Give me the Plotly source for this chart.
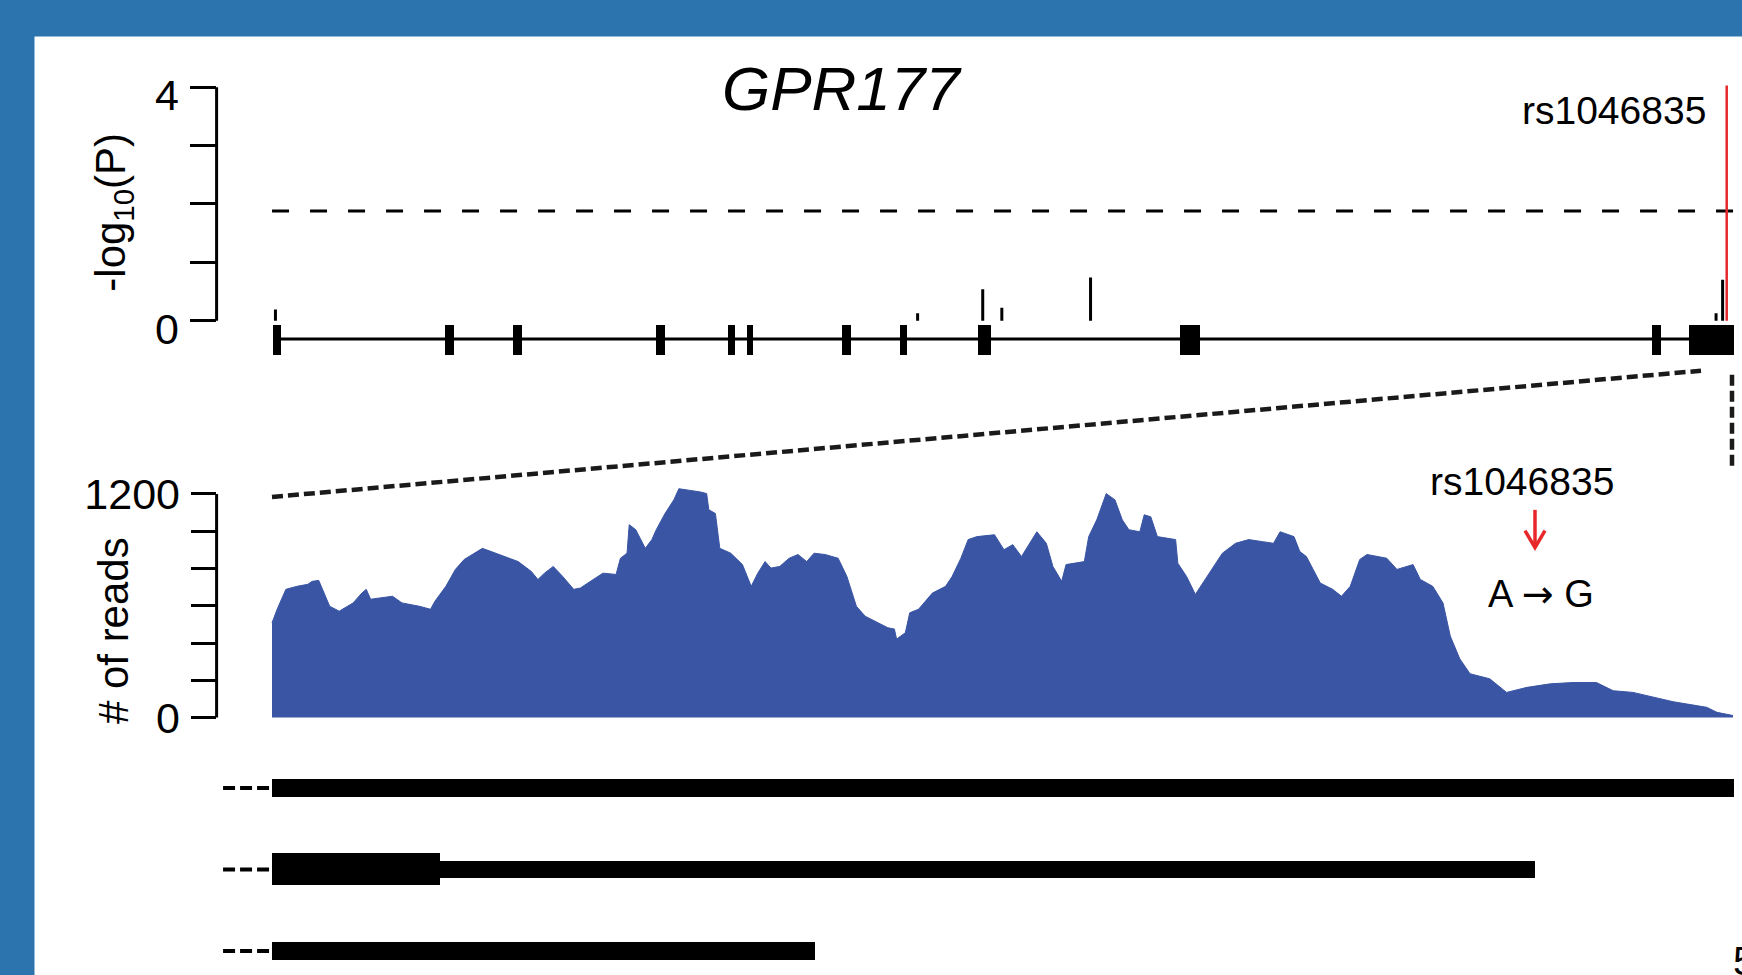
import plotly.graph_objects as go

W, H = 1742, 975
BLUE = "#2B74AE"
FILL = "#3A55A4"
RED = "#E8272B"
FONT = "Liberation Sans, Arial, Helvetica, sans-serif"

# ---------------- data ----------------
# top panel: gene model (kb) and association results (-log10 P)
gene_span_kb = [0.0, 107.0]
exon_start_kb = [0.00, 12.60, 17.58, 28.02, 33.34, 34.73, 41.69, 45.94, 51.65, 66.45, 101.03, 103.71]
exon_end_kb = [0.59, 13.26, 18.24, 28.72, 33.85, 35.17, 42.35, 46.45, 52.60, 67.92, 101.69, 107.00]
snp_pos_kb = [0.18, 47.23, 52.00, 53.40, 59.90, 105.73, 106.21]
snp_logp = [0.19, 0.13, 0.54, 0.22, 0.74, 0.13, 0.70]
lead_snp_name = "rs1046835"
lead_snp_pos_kb = [106.51]
lead_snp_logp = [4.03]
threshold_logp = 1.88
logp_ticks = [0, 1, 2, 3, 4]
logp_ticktext = ["0", "", "", "", "4"]

# middle panel: read coverage over the zoomed 3' region (bp)
cov_pos_bp = [0, 7, 19, 34, 49, 55, 64, 71, 79, 92,
              111, 123, 129, 135, 147, 165, 178, 202, 217, 223,
              238, 251, 263, 288, 300, 318, 337, 355, 364, 373,
              385, 398, 413, 422, 440, 453, 471, 477, 486, 489,
              498, 505, 511, 520, 526, 538, 550, 557, 572, 586,
              595, 598, 607, 613, 628, 644, 656, 665, 675, 683,
              695, 708, 720, 732, 742, 757, 775, 787, 800, 812,
              830, 843, 852, 855, 867, 873, 885, 904, 922, 931,
              943, 953, 965, 989, 1002, 1014, 1026, 1038, 1047, 1060,
              1069, 1081, 1087, 1112, 1118, 1129, 1142, 1154, 1164, 1173,
              1188, 1194, 1203, 1212, 1237, 1240, 1252, 1264, 1283, 1301,
              1319, 1337, 1356, 1371, 1380, 1399, 1407, 1416, 1435, 1452,
              1464, 1476, 1489, 1499, 1526, 1540, 1562, 1572, 1589, 1603,
              1613, 1626, 1640, 1667, 1690, 1718, 1750, 1781, 1813, 1836,
              1863, 1891, 1918, 1964, 1978, 2000]
cov_reads = [508, 581, 688, 704, 715, 731, 736, 668, 597, 571,
             615, 668, 688, 635, 642, 651, 615, 597, 581, 624,
             704, 795, 848, 908, 891, 864, 837, 784, 741, 775,
             811, 757, 688, 695, 741, 775, 768, 855, 882, 1035,
             1008, 955, 908, 955, 1008, 1095, 1168, 1228, 1221, 1211,
             1202, 1115, 1095, 908, 882, 821, 704, 775, 837, 802,
             811, 855, 875, 837, 882, 875, 855, 757, 597, 544,
             508, 482, 475, 421, 455, 562, 581, 668, 704, 757,
             855, 955, 971, 981, 901, 928, 864, 944, 997, 935,
             811, 731, 821, 837, 971, 1061, 1202, 1168, 1061, 1008,
             997, 1088, 1077, 971, 955, 828, 757, 661, 775, 882,
             935, 955, 944, 935, 997, 971, 891, 864, 722, 688,
             651, 704, 848, 875, 855, 795, 821, 741, 704, 615,
             437, 315, 235, 208, 135, 162, 181, 188, 188, 144,
             135, 108, 85, 55, 28, 11]
reads_ticks = [0, 200, 400, 600, 800, 1000, 1200]
reads_ticktext = ["0", "", "", "", "", "", "1200"]

# bottom: transcript models (bp)
tx_row = [3, 2, 1]
tx_start_bp = [0, 0, 0]
tx_end_bp = [2001, 1729, 743]
tx_thick_end_bp = [0, 229, 0]
tx_lead_bp = [-67, -3]

# ---------------- helpers for layout positions ----------------
def fx(p):
    return p / W


def fy(p):
    return 1 - p / H


fig = go.Figure()

# gene backbone
fig.add_trace(go.Scatter(x=gene_span_kb, y=[-0.311, -0.311], mode="lines",
                         line=dict(color="black", width=3), xaxis="x", yaxis="y",
                         hoverinfo="skip"))
# exons
exon_center = [(s + e) / 2 for s, e in zip(exon_start_kb, exon_end_kb)]
exon_len = [e - s for s, e in zip(exon_start_kb, exon_end_kb)]
fig.add_trace(go.Bar(x=exon_center, y=[0.511] * len(exon_center), base=[-0.584] * len(exon_center),
                     width=exon_len, marker=dict(color="black", line=dict(width=0)),
                     xaxis="x", yaxis="y"))
# threshold
fig.add_trace(go.Scatter(x=[-0.07, 107.63], y=[threshold_logp, threshold_logp], mode="lines",
                         line=dict(color="black", width=3, dash="17px,21px"),
                         xaxis="x", yaxis="y"))
# SNP stems
sx, sy = [], []
for p, v in zip(snp_pos_kb, snp_logp):
    sx += [p, p, None]
    sy += [0, v, None]
fig.add_trace(go.Scatter(x=sx, y=sy, mode="lines", line=dict(color="black", width=3),
                         xaxis="x", yaxis="y"))
fig.add_trace(go.Scatter(x=lead_snp_pos_kb * 2, y=[0, lead_snp_logp[0]], mode="lines",
                         line=dict(color=RED, width=2.5), xaxis="x", yaxis="y"))

# coverage
fig.add_trace(go.Scatter(x=cov_pos_bp, y=cov_reads, mode="lines", fill="tozeroy",
                         fillcolor=FILL, line=dict(color=FILL, width=1),
                         xaxis="x2", yaxis="y2"))

# transcripts
fig.add_trace(go.Bar(orientation="h", y=tx_row,
                     x=[e - s for s, e in zip(tx_start_bp, tx_end_bp)], base=tx_start_bp,
                     width=0.215, marker=dict(color="black", line=dict(width=0)),
                     xaxis="x3", yaxis="y3"))
fig.add_trace(go.Bar(orientation="h", y=tx_row,
                     x=[e - s for s, e in zip(tx_start_bp, tx_thick_end_bp)], base=tx_start_bp,
                     width=0.39, marker=dict(color="black", line=dict(width=0)),
                     xaxis="x3", yaxis="y3"))
lx, ly = [], []
for r in tx_row:
    lx += [tx_lead_bp[0], tx_lead_bp[1], None]
    ly += [r, r, None]
fig.add_trace(go.Scatter(x=lx, y=ly, mode="lines", line=dict(color="black", width=4, dash="12px,5px"),
                         xaxis="x3", yaxis="y3"))

tickfont = dict(family=FONT, size=43, color="black")
hidden = dict(visible=False, showgrid=False, zeroline=False)

fig.update_layout(
    width=W, height=H, autosize=False,
    margin=dict(l=0, r=0, t=0, b=0),
    paper_bgcolor=BLUE, plot_bgcolor="rgba(0,0,0,0)",
    showlegend=False, barmode="overlay", bargap=0,
    xaxis=dict(domain=[fx(216.6), 1], range=[-4.132, 107.63], anchor="y", **hidden),
    yaxis=dict(domain=[fy(370), fy(60)], range=[-0.805, 4.4715], anchor="x",
               tickvals=logp_ticks, ticktext=logp_ticktext, ticks="outside", ticklen=26,
               tickwidth=3, tickcolor="black", showline=False, showgrid=False, zeroline=False,
               tickfont=tickfont, ticklabelstandoff=2, ticklabelshift=8),
    xaxis2=dict(domain=[fx(216.6), 1], range=[-75.84, 2012.3], anchor="y2", **hidden),
    yaxis2=dict(domain=[fy(740), fy(470)], range=[-96, 1344], anchor="x2",
                tickvals=reads_ticks, ticktext=reads_ticktext, ticks="outside", ticklen=25,
                tickwidth=3, tickcolor="black", showline=False, showgrid=False, zeroline=False,
                tickfont=tickfont, ticklabelstandoff=2),
    xaxis3=dict(domain=[fx(216.6), 1], range=[-75.84, 2012.3], anchor="y3", **hidden),
    yaxis3=dict(domain=[0, fy(770)], range=[0.7805, 3.2805], anchor="x3", **hidden),
)

shapes = [
    # white slide panel
    dict(type="rect", xref="paper", yref="paper", x0=fx(34.5), x1=1.01, y0=-0.01, y1=fy(36.7),
         fillcolor="white", line=dict(width=0), layer="below"),
    # axis lines spanning only the labelled range
    dict(type="line", xref="x domain", yref="y", x0=0, x1=0, y0=0, y1=4,
         line=dict(color="black", width=3)),
    dict(type="line", xref="x2 domain", yref="y2", x0=0, x1=0, y0=0, y1=1200,
         line=dict(color="black", width=3)),
    # zoom connector lines
    dict(type="line", xref="paper", yref="paper", x0=fx(272), y0=fy(500), x1=fx(1701), y1=fy(373),
         line=dict(color="#1a1a1a", width=4.5, dash="11px,5px")),
    dict(type="line", xref="paper", yref="paper", x0=fx(1732), y0=fy(377), x1=fx(1732), y1=fy(472),
         line=dict(color="#1a1a1a", width=4.5, dash="11px,5px")),
    # red arrow pointing at the SNP in the coverage track
    dict(type="line", xref="paper", yref="paper", x0=fx(1535), y0=fy(513), x1=fx(1535), y1=fy(550),
         line=dict(color=RED, width=3.5)),
    dict(type="path", xref="paper", yref="paper",
         path=f"M {fx(1525)},{fy(534)} L {fx(1535)},{fy(551)} L {fx(1545)},{fy(534)}",
         line=dict(color=RED, width=3.5)),
]
fig.update_layout(shapes=shapes)


def ann(text, x, y, size=38, xanchor="center", angle=0, color="black"):
    return dict(text=text, x=fx(x), y=fy(y), xref="paper", yref="paper", showarrow=False,
                xanchor=xanchor, yanchor="middle", textangle=angle,
                font=dict(family=FONT, size=size, color=color))


fig.update_layout(annotations=[
    ann("<i>GPR177</i>", 842, 89, size=62),
    ann(lead_snp_name, 1708, 111, size=39, xanchor="right"),
    ann(lead_snp_name, 1522, 484, size=39),
    ann("A <span style='font-family:DejaVu Sans'>→</span> G", 1541, 598, size=38),
    ann("-log<sub>10</sub>(P)", 114, 214, size=42, angle=-90),
    ann("# of reads", 113, 635, size=42, angle=-90),
    ann("5", 1731, 967, size=40, xanchor="left"),
])

fig.write_html("out.html", config={"displayModeBar": False},
               post_script="document.body.style.margin='0px';document.body.style.overflow='hidden';")
